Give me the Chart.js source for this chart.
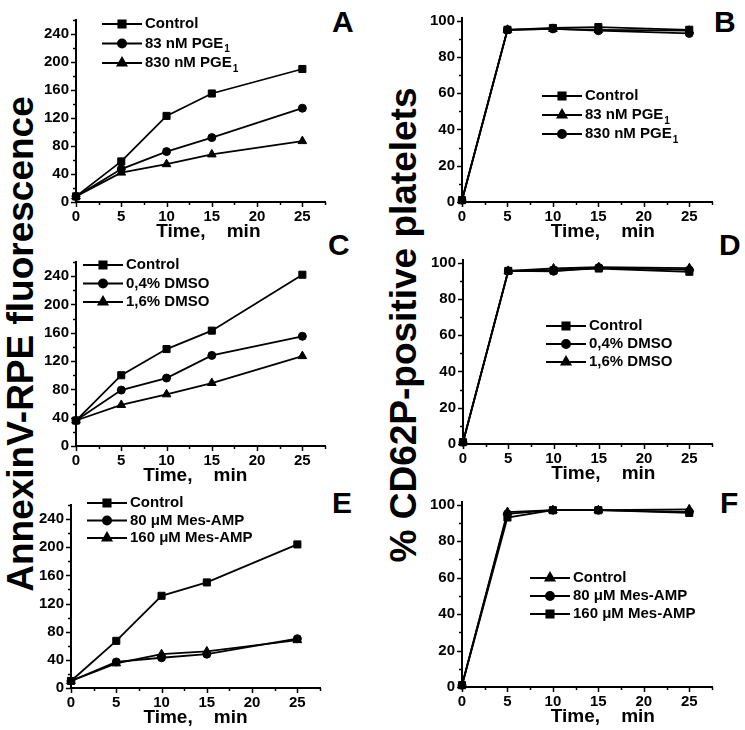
<!DOCTYPE html>
<html>
<head>
<meta charset="utf-8">
<script src="https://cdn.jsdelivr.net/npm/chart.js@4.4.1/dist/chart.umd.min.js"></script>
<style>
  html, body { margin: 0; padding: 0; background: #fff; }
  body { width: 745px; height: 730px; position: relative; overflow: hidden; font-family: "Liberation Sans", Arial, sans-serif; color: #000; }
  .letter { position: absolute; font-weight: bold; font-size: 30px; line-height: 1; }
  .ytitle { position: absolute; font-weight: bold; line-height: 1; white-space: nowrap; transform: translate(-50%, -50%) rotate(-90deg); }
</style>
</head>
<body>
<div class="ytitle" style="left:20px; top:344px; font-size:37px;">AnnexinV-RPE fluorescence</div>
<div class="ytitle" style="left:403px; top:325px; font-size:37px;">% CD62P-positive platelets</div>
<div class="letter" style="left:332px; top:7px;">A</div>
<div class="letter" style="left:714px; top:7px;">B</div>
<div class="letter" style="left:328px; top:230px;">C</div>
<div class="letter" style="left:719px; top:230px;">D</div>
<div class="letter" style="left:332px; top:488px;">E</div>
<div class="letter" style="left:720px; top:488px;">F</div>

<script>
/* Annexin V / CD62P time courses - six panels */

const times = [0, 5, 10, 15, 25];
const timeTicks = [0, 5, 10, 15, 20, 25];
const annexinTicks = [0, 40, 80, 120, 160, 200, 240];
const cd62pTicks = [0, 20, 40, 60, 80, 100];

// A - AnnexinV, PGE1
const aLabels = ['Control', '83 nM PGE₁', '830 nM PGE₁'];
const aControl = [8, 58, 123, 155, 190];
const aPge83 = [8, 47, 72, 92, 134];
const aPge830 = [8, 42, 54, 68, 87];

// B - CD62P, PGE1
const bLabels = ['Control', '83 nM PGE₁', '830 nM PGE₁'];
const bControl = [1, 95, 96, 96.5, 95];
const bPge83 = [1, 95, 95.5, 95, 94.5];
const bPge830 = [1, 95, 95.5, 94.5, 93];

// C - AnnexinV, DMSO
const cLabels = ['Control', '0,4% DMSO', '1,6% DMSO'];
const cControl = [36, 100, 137, 163, 242];
const cDmso04 = [36, 79, 96, 128, 155];
const cDmso16 = [36, 58, 73, 89, 127];

// D - CD62P, DMSO
const dLabels = ['Control', '0,4% DMSO', '1,6% DMSO'];
const dControl = [1, 95.5, 95.8, 96.8, 95];
const dDmso04 = [1, 95.5, 95.3, 97.3, 96];
const dDmso16 = [1, 95.5, 96.8, 97.5, 97];

// E - AnnexinV, Mes-AMP
const eLabels = ['Control', '80 μM Mes-AMP', '160 μM Mes-AMP'];
const eControl = [10, 67, 131, 150, 204];
const eMes80 = [10, 37, 43, 48, 70];
const eMes160 = [10, 35, 48, 52, 68];

// F - CD62P, Mes-AMP
const fLabels = ['Control', '80 μM Mes-AMP', '160 μM Mes-AMP'];
const fControl = [1, 96, 97, 97, 97.5];
const fMes80 = [1, 95, 97, 97, 96];
const fMes160 = [1, 93, 97, 97, 95.5];

const FONT = '"Liberation Sans", Arial, sans-serif';
Chart.defaults.font.family = FONT;
Chart.defaults.color = '#000';
Chart.defaults.animation = false;

// small outward tick marks, major + minor
const axisTicks = {
  id: 'axisTicks',
  afterDraw(chart, args, opts) {
    const { ctx, scales: { x, y } } = chart;
    ctx.save();
    ctx.strokeStyle = '#000';
    ctx.lineWidth = 1.5;
    for (let v = x.min; v <= x.max + 1e-6; v += opts.xMinor) {
      const px = Math.round(x.getPixelForValue(v)) + 0.5;
      const len = Math.abs(v / opts.xMajor - Math.round(v / opts.xMajor)) < 1e-6 ? 5 : 3;
      ctx.beginPath();
      ctx.moveTo(px, x.top);
      ctx.lineTo(px, x.top + len);
      ctx.stroke();
    }
    for (let v = y.min; v <= y.max + 1e-6; v += opts.yMinor) {
      const py = Math.round(y.getPixelForValue(v)) + 0.5;
      const len = Math.abs(v / opts.yMajor - Math.round(v / opts.yMajor)) < 1e-6 ? 5 : 3;
      ctx.beginPath();
      ctx.moveTo(y.right, py);
      ctx.lineTo(y.right - len, py);
      ctx.stroke();
    }
    ctx.restore();
  }
};

// legend drawn inside the plot: line + marker + label (with subscript 1)
const insetLegend = {
  id: 'insetLegend',
  afterDraw(chart, args, opts) {
    const { ctx, chartArea } = chart;
    ctx.save();
    chart.data.datasets.forEach((ds, i) => {
      const x0 = chartArea.left + opts.x;
      const y0 = chartArea.top + opts.y + i * opts.rowH;
      ctx.strokeStyle = '#000';
      ctx.fillStyle = '#000';
      ctx.lineWidth = 2;
      ctx.beginPath();
      ctx.moveTo(x0, y0);
      ctx.lineTo(x0 + 40, y0);
      ctx.stroke();
      Chart.helpers.drawPoint(ctx, { pointStyle: ds.pointStyle, radius: ds.pointRadius, rotation: 0, borderWidth: 1 }, x0 + 20, y0);

      ctx.font = 'bold 15px ' + FONT;
      ctx.textBaseline = 'middle';
      ctx.textAlign = 'left';
      const parts = ds.label.split('₁');
      let tx = x0 + 43;
      ctx.fillText(parts[0], tx, y0);
      if (parts.length > 1) {
        tx += ctx.measureText(parts[0]).width + 1;
        ctx.font = 'bold 10px ' + FONT;
        ctx.fillText('1', tx, y0 + 6);
      }
    });
    ctx.restore();
  }
};

function buildPanel(p) {
  const padTop = 14, yAxisW = 50, xAxisH = 45, padRight = 8;
  const r = p.rect;
  const canvas = document.createElement('canvas');
  canvas.width = r.right - r.left + yAxisW + padRight;
  canvas.height = r.bottom - r.top + padTop + xAxisH;
  canvas.style.cssText = `position:absolute;left:${r.left - yAxisW}px;top:${r.top - padTop}px;`;
  document.body.appendChild(canvas);

  new Chart(canvas, {
    type: 'line',
    data: {
      datasets: p.series.map(s => ({
        label: s.label,
        data: times.map((t, i) => ({ x: t, y: s.values[i] })),
        borderColor: '#000',
        backgroundColor: '#000',
        borderWidth: 1.8,
        pointStyle: s.marker,
        pointRadius: s.marker === 'circle' ? 4 : 5,
        pointBorderWidth: 1,
        pointBackgroundColor: '#000',
        tension: 0,
        clip: false
      }))
    },
    options: {
      responsive: false,
      devicePixelRatio: 1,
      layout: { padding: { top: padTop, right: padRight, left: 0, bottom: 0 } },
      plugins: {
        legend: { display: false },
        tooltip: { enabled: false },
        axisTicks: p.ticks,
        insetLegend: p.legend
      },
      scales: {
        x: {
          type: 'linear',
          min: 0,
          max: 27.5,
          afterBuildTicks: s => { s.ticks = timeTicks.map(v => ({ value: v })); },
          afterFit: s => { s.height = xAxisH; },
          grid: { display: false, drawTicks: false },
          border: { display: true, color: '#000', width: 2 },
          ticks: { padding: 6, font: { size: 15, weight: 'bold' }, color: '#000', maxRotation: 0 },
          title: { display: true, text: p.xTitle, font: { size: 19, weight: 'bold' }, color: '#000', padding: { top: 0, bottom: 4 } }
        },
        y: {
          min: 0,
          max: p.yMax,
          afterBuildTicks: s => { s.ticks = p.yTicks.map(v => ({ value: v })); },
          afterFit: s => { s.width = yAxisW; },
          grid: { display: false, drawTicks: false },
          border: { display: true, color: '#000', width: 2 },
          ticks: { padding: 7, font: { size: 15, weight: 'bold' }, color: '#000' }
        }
      }
    },
    plugins: [axisTicks, insetLegend]
  });
}

const leftTicks = { xMinor: 2.5, xMajor: 5, yMinor: 20, yMajor: 40 };
const rightTicks = { xMinor: 2.5, xMajor: 5, yMinor: 10, yMajor: 20 };

buildPanel({
  rect: { left: 76, right: 325, top: 18, bottom: 202 },
  yMax: 260, yTicks: annexinTicks, ticks: leftTicks,
  xTitle: '   Time,    min',
  legend: { x: 26, y: 4, rowH: 19.5 },
  series: [
    { label: aLabels[0], values: aControl, marker: 'rect' },
    { label: aLabels[1], values: aPge83, marker: 'circle' },
    { label: aLabels[2], values: aPge830, marker: 'triangle' }
  ]
});

buildPanel({
  rect: { left: 462, right: 712, top: 16, bottom: 202 },
  yMax: 101.5, yTicks: cd62pTicks, ticks: rightTicks,
  xTitle: '      Time,    min',
  legend: { x: 80, y: 78, rowH: 19 },
  series: [
    { label: bLabels[0], values: bControl, marker: 'rect' },
    { label: bLabels[1], values: bPge83, marker: 'triangle' },
    { label: bLabels[2], values: bPge830, marker: 'circle' }
  ]
});

buildPanel({
  rect: { left: 76, right: 325, top: 260, bottom: 446 },
  yMax: 260, yTicks: annexinTicks, ticks: leftTicks,
  xTitle: 'Time,    min  ',
  legend: { x: 7, y: 3, rowH: 18.5 },
  series: [
    { label: cLabels[0], values: cControl, marker: 'rect' },
    { label: cLabels[1], values: cDmso04, marker: 'circle' },
    { label: cLabels[2], values: cDmso16, marker: 'triangle' }
  ]
});

buildPanel({
  rect: { left: 463, right: 712, top: 258, bottom: 444 },
  yMax: 101.5, yTicks: cd62pTicks, ticks: rightTicks,
  xTitle: '      Time,    min',
  legend: { x: 83, y: 66, rowH: 18 },
  series: [
    { label: dLabels[0], values: dControl, marker: 'rect' },
    { label: dLabels[1], values: dDmso04, marker: 'circle' },
    { label: dLabels[2], values: dDmso16, marker: 'triangle' }
  ]
});

buildPanel({
  rect: { left: 71, right: 320, top: 503, bottom: 688 },
  yMax: 260, yTicks: annexinTicks, ticks: leftTicks,
  xTitle: 'Time,    min',
  legend: { x: 16, y: -2, rowH: 17.5 },
  series: [
    { label: eLabels[0], values: eControl, marker: 'rect' },
    { label: eLabels[1], values: eMes80, marker: 'circle' },
    { label: eLabels[2], values: eMes160, marker: 'triangle' }
  ]
});

buildPanel({
  rect: { left: 462, right: 712, top: 500, bottom: 687 },
  yMax: 101.5, yTicks: cd62pTicks, ticks: rightTicks,
  xTitle: '      Time,    min',
  legend: { x: 68, y: 76, rowH: 18 },
  series: [
    { label: fLabels[0], values: fControl, marker: 'triangle' },
    { label: fLabels[1], values: fMes80, marker: 'circle' },
    { label: fLabels[2], values: fMes160, marker: 'rect' }
  ]
});
</script>
</body>
</html>
